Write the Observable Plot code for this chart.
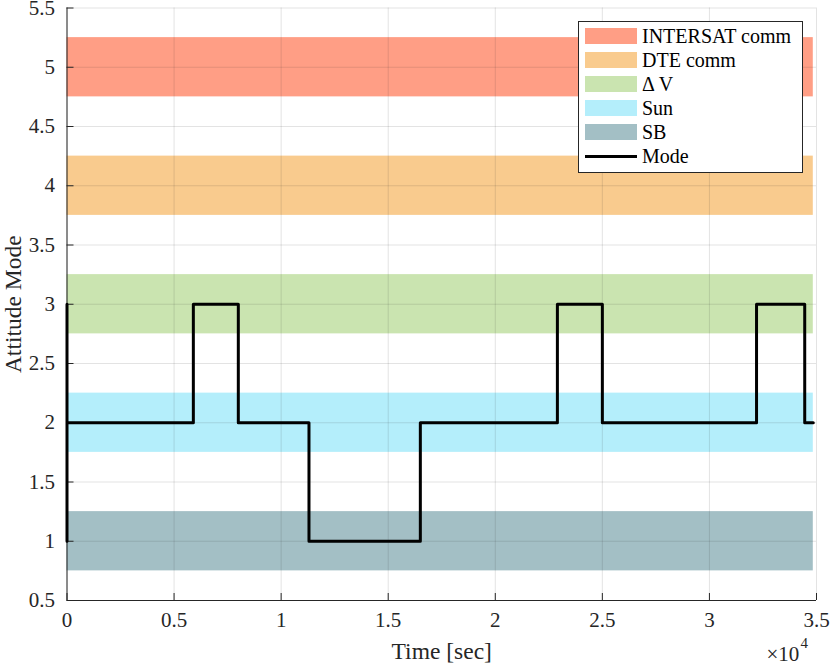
<!DOCTYPE html>
<html><head><meta charset="utf-8">
<script src="https://cdn.jsdelivr.net/npm/d3@7"></script>
<script src="https://cdn.jsdelivr.net/npm/@observablehq/plot@0.6"></script>
<style>
body{margin:0;background:#fff;}
#wrap{position:relative;width:830px;height:666px;font-family:"Liberation Serif","Times New Roman",serif;}
#wrap svg, #wrap svg text{font-family:"Liberation Serif","Times New Roman",serif !important;}
#legend{position:absolute;left:578px;top:21px;width:223px;height:150px;border:1px solid #262626;background:#fff;}
.row{position:absolute;left:0;width:100%;height:24px;}
.sw{position:absolute;left:6px;top:4px;width:52px;height:16px;}
.ln{position:absolute;left:6px;top:10.5px;width:52px;height:3px;background:#000;}
.lb{position:absolute;left:63px;top:0;line-height:24px;font-size:20px;color:#000;white-space:nowrap;}
</style></head><body><div id="wrap"></div>
<script>
const bandNames = ["INTERSAT comm", "DTE comm", "Δ V", "Sun", "SB"];
const bandLevels = [5, 4, 3, 2, 1];
const bandColors = ["#FF9E85", "#F9CB8E", "#CAE4B0", "#B4EEFB", "#A3BFC5"];
const bandStart = 0;
const bandEnd = 34850;
const modeTimes = [0, 0, 0, 5900, 8000, 11300, 16500, 22900, 25000, 32200, 34450, 34850];
const modeValues = [3, 1, 2, 3, 2, 1, 2, 3, 2, 3, 2, 2];
const xTicks = [0, 5000, 10000, 15000, 20000, 25000, 30000, 35000];
const yTicks = [0.5, 1, 1.5, 2, 2.5, 3, 3.5, 4, 4.5, 5, 5.5];
const axisColor = "#262626";

const bands = bandNames.map((n, i) => ({name: n, level: bandLevels[i], color: bandColors[i], start: bandStart, end: bandEnd}));
const modeData = modeTimes.map((t, i) => ({t, m: modeValues[i]}));

const plot = Plot.plot({
  width: 830, height: 666,
  marginLeft: 66.5, marginRight: 14, marginTop: 7.5, marginBottom: 66,
  style: "font-family: 'Liberation Serif','Times New Roman',serif; font-size: 21px; color: #262626; background: white; overflow: visible;",
  x: {domain: [0, 35000]},
  y: {domain: [0.5, 5.5]},
  marks: [
    Plot.rect(bands, {x1: "start", x2: "end", y1: d => d.level - 0.25, y2: d => d.level + 0.25, fill: "color"}),
    Plot.gridX(xTicks, {stroke: axisColor, strokeOpacity: 0.13}),
    Plot.gridY(yTicks, {stroke: axisColor, strokeOpacity: 0.13}),
    Plot.axisX(xTicks, {tickSize: 0, tickPadding: 12, tickFormat: d => String(d / 1e4), label: null, fontSize: 21, fill: axisColor}),
    Plot.axisY(yTicks, {tickSize: 0, tickPadding: 12, tickFormat: d => String(d), label: null, fontSize: 21, fill: axisColor}),
    Plot.ruleX(xTicks, {y1: 0.5, y2: 0.5, insetBottom: 7, stroke: axisColor}),
    Plot.ruleY(yTicks, {x1: 0, x2: 0, insetRight: -7, stroke: axisColor}),
    Plot.ruleX([0], {stroke: axisColor}),
    Plot.ruleY([0.5], {stroke: axisColor}),
    Plot.line(modeData, {x: "t", y: "m", curve: "step-after", stroke: "black", strokeWidth: 3}),
    Plot.text(["Time [sec]"], {frameAnchor: "bottom", textAnchor: "middle", lineAnchor: "middle", dy: 51, fontSize: 23.5, fill: axisColor}),
    Plot.text(["Attitude Mode"], {frameAnchor: "left", textAnchor: "middle", lineAnchor: "middle", rotate: -90, dx: -54, fontSize: 23.5, fill: axisColor}),
    Plot.text(["×10"], {frameAnchor: "bottom-right", textAnchor: "start", lineAnchor: "middle", dx: -50, dy: 54, fontSize: 21, fill: axisColor}),
    Plot.text(["4"], {frameAnchor: "bottom-right", textAnchor: "start", lineAnchor: "middle", dx: -16, dy: 43, fontSize: 15, fill: axisColor})
  ]
});
const wrap = document.getElementById("wrap");
wrap.appendChild(plot);

const legend = document.createElement("div");
legend.id = "legend";
const entries = bands.map(b => ({label: b.name, color: b.color, line: false})).concat([{label: "Mode", color: "#000", line: true}]);
entries.forEach((e, i) => {
  const row = document.createElement("div");
  row.className = "row";
  row.style.top = (2.3 + 24 * i) + "px";
  const s = document.createElement("div");
  s.className = e.line ? "ln" : "sw";
  s.style.background = e.color;
  const l = document.createElement("div");
  l.className = "lb";
  l.textContent = e.label;
  row.appendChild(s); row.appendChild(l);
  legend.appendChild(row);
});
wrap.appendChild(legend);
</script>
</body></html>
